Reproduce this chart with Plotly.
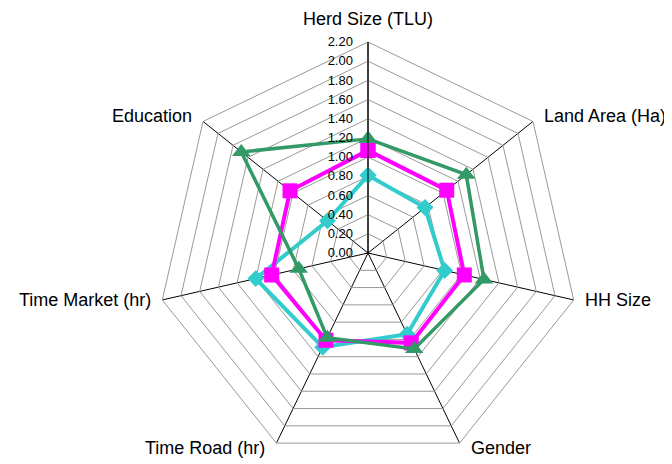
import math
import plotly.graph_objects as go

categories = ["Herd Size (TLU)", "Land Area (Ha)", "HH Size", "Gender",
              "Time Road (hr)", "Time Market (hr)", "Education"]
turquoise_vals = [0.81, 0.76, 0.82, 0.94, 1.09, 1.20, 0.54]
magenta_vals = [1.07, 1.05, 1.03, 1.04, 1.01, 1.03, 1.04]
green_vals = [1.19, 1.31, 1.24, 1.11, 0.98, 0.74, 1.69]


def closed(v):
    return list(v) + [v[0]]


theta = closed(categories)

# page has an 8px body margin, so the figure is drawn 8px in from the corner
W, H = 664, 456
ML, MT, MB = 149, 34, 0
ph = H - MT - MB
pw = ph
MR = W - ML - pw
R = min(pw, ph) / 2.0
CX, CY = ML + pw / 2.0, MT + ph / 2.0

fig = go.Figure()
fig.add_trace(go.Scatterpolar(
    r=closed(turquoise_vals), theta=theta, mode="lines+markers",
    line=dict(color="#33CCCC", width=4),
    marker=dict(symbol="diamond", size=13, color="#33CCCC"),
    name="Series 1"))
fig.add_trace(go.Scatterpolar(
    r=closed(magenta_vals), theta=theta, mode="lines+markers",
    line=dict(color="#FF00FF", width=4),
    marker=dict(symbol="square", size=15, color="#FF00FF"),
    name="Series 2"))
fig.add_trace(go.Scatterpolar(
    r=closed(green_vals), theta=theta, mode="lines+markers",
    line=dict(color="#339966", width=3.5),
    marker=dict(symbol="triangle-up", size=16, color="#339966"),
    name="Series 3"))

# category labels placed beside the outer polygon vertices
annotations = []
n = len(categories)
for i, name in enumerate(categories):
    a = 2 * math.pi * i / n
    vx = CX + R * math.sin(a)
    vy = CY - R * math.cos(a)
    if i == 0:
        xa, ya, dx, dy = "center", "bottom", 0, 11
    else:
        s = math.sin(a)
        xa = "left" if s > 0 else "right"
        dx = 9 if s > 0 else -9
        c = math.cos(a)
        if c > 0.3:
            dy = 5
        elif c < -0.3:
            dy = -5
        else:
            dy = 0
        ya = "middle"
    annotations.append(dict(
        text=name, showarrow=False, xref="paper", yref="paper",
        x=(vx - ML) / pw, y=(H - MB - vy) / ph,
        xanchor=xa, yanchor=ya, xshift=dx, yshift=dy,
        font=dict(size=18, color="black"),
    ))

fig.update_layout(
    width=W, height=H,
    margin=dict(l=ML, r=MR, t=MT, b=MB),
    paper_bgcolor="white",
    showlegend=False,
    font=dict(family="Liberation Sans, Arial, sans-serif", color="black"),
    annotations=annotations,
    polar=dict(
        bgcolor="white",
        gridshape="linear",
        radialaxis=dict(
            range=[0, 2.2], dtick=0.2, tick0=0, tickformat=".2f",
            angle=90, side="counterclockwise", tickangle=90,
            showline=True, linecolor="black", linewidth=1,
            gridcolor="#999999", gridwidth=1,
            ticks="outside", ticklen=10, tickcolor="rgba(0,0,0,0)",
            tickfont=dict(size=13, color="black"),
        ),
        angularaxis=dict(
            direction="clockwise", rotation=90,
            showline=True, linecolor="#999999", linewidth=1,
            gridcolor="black", gridwidth=1, ticks="",
            showticklabels=False,
        ),
    ),
)

fig.write_html("out.html")
